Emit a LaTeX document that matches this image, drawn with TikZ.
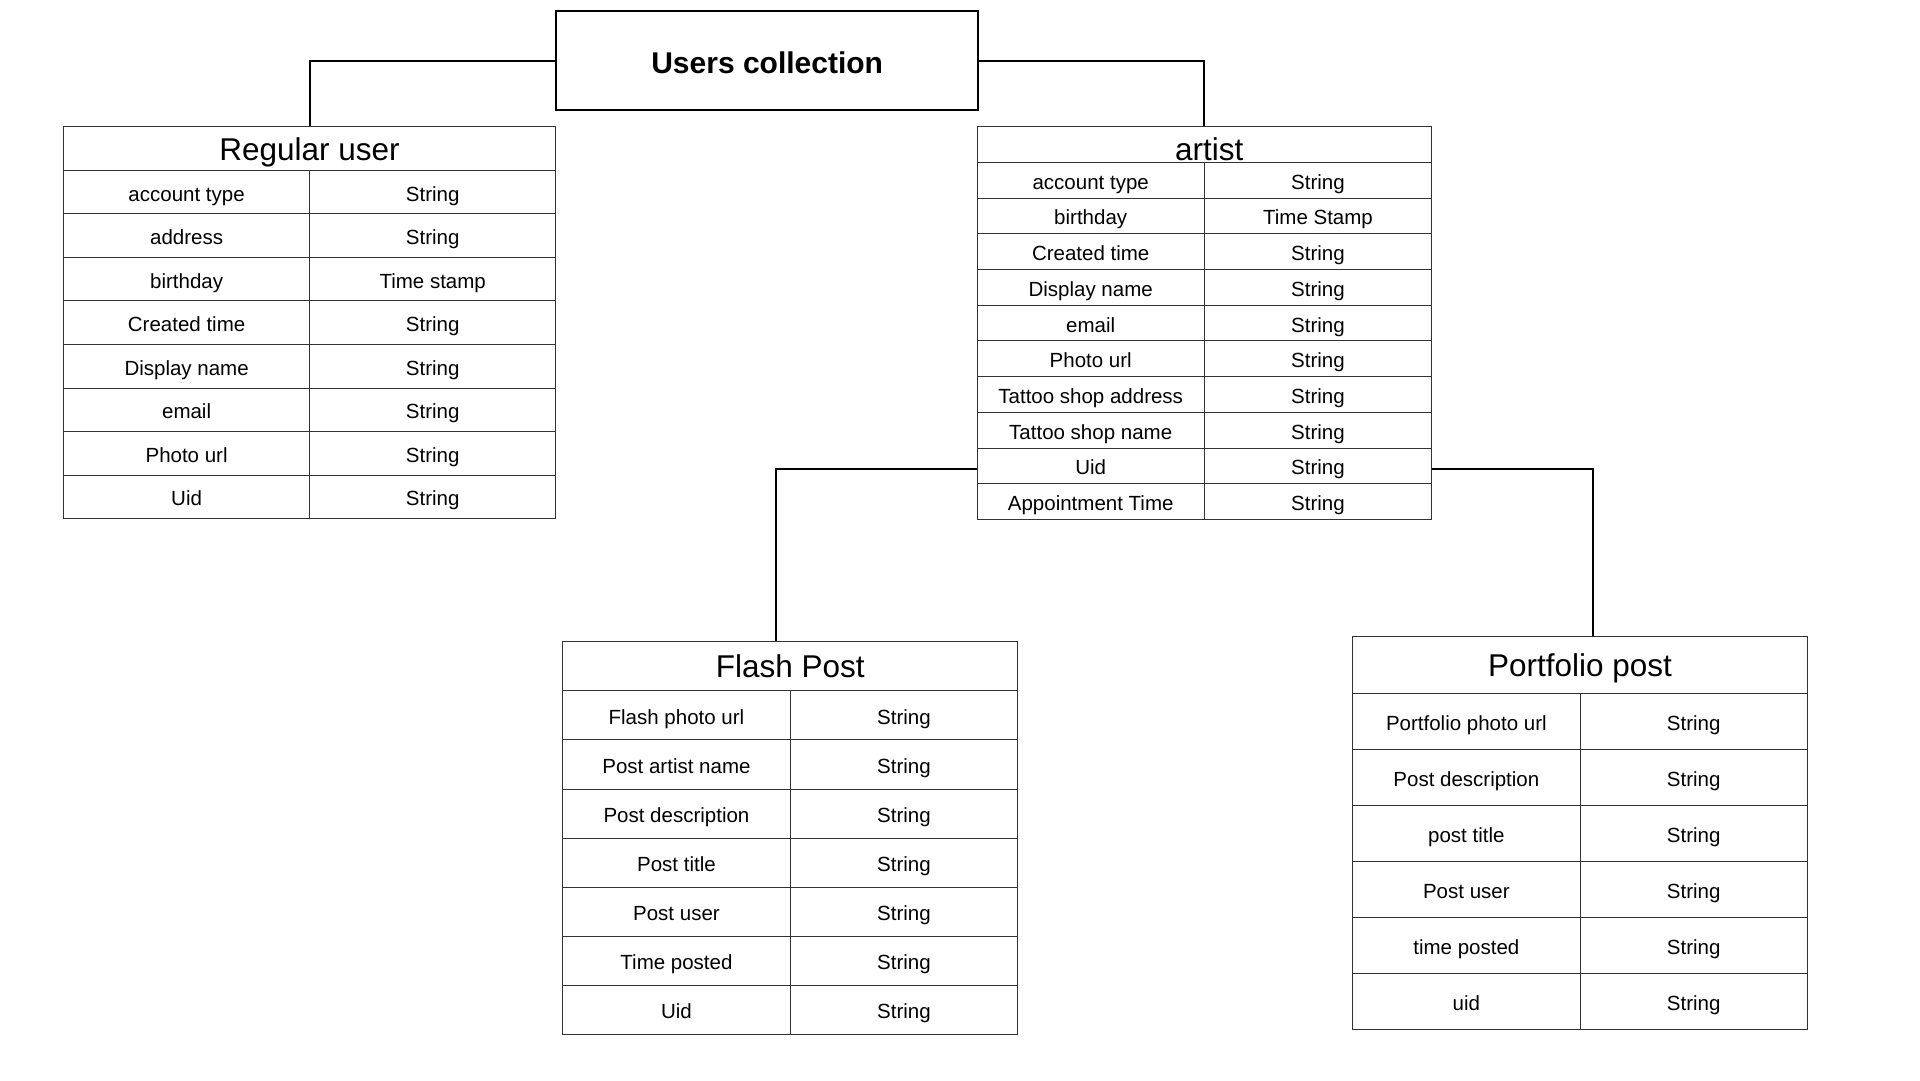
\documentclass[tikz,border=0pt]{standalone}
\usepackage{fontspec}
\setmainfont{Liberation Sans}
\usepackage{tikz}
\usetikzlibrary{positioning}
\tikzstyle{collection} = [rectangle, minimum width=422pt, minimum height=99.5pt, text centered, text height=27pt, text depth=1.4pt, draw=black, line width=2pt, font=\fontsize{30}{36}\selectfont\bfseries]
\tikzstyle{tabletitle} = [rectangle, inner sep=0pt, text centered, text height=26pt, text depth=3pt, draw=black!80, line width=1pt, font=\fontsize{31.5}{38}\selectfont]
\tikzstyle{cell} = [rectangle, inner sep=0pt, text centered, text height=20pt, text depth=2pt, draw=black!80, line width=1pt, font=\fontsize{20.5}{24}\selectfont]
\tikzstyle{link} = [line width=2pt]

\begin{document}
\begin{tikzpicture}[x=1pt, y=-1pt]
        \path[fill=white, use as bounding box] (0,0) rectangle (1920,1080);

        \node (users) [collection] at (767.2,60.5) {Users collection};

        % regular user table
        \node (rutitle) [tabletitle, minimum width=492.2pt, minimum height=43.56pt] at (309.6,148.5) {Regular user};
        \foreach \k/\t [count=\i] in {account type/String, address/String, birthday/Time stamp, Created time/String, Display name/String, email/String, Photo url/String, Uid/String} {
            \node (ru-\i-k) [cell, minimum width=246.1pt, minimum height=43.56pt] at (186.6,148.5+43.56*\i) {\k};
            \node (ru-\i-t) [cell, minimum width=246.1pt, minimum height=43.56pt] at (432.7,148.5+43.56*\i) {\t};
        }

        % artist table
        \node (artitle) [tabletitle, minimum width=454.7pt, minimum height=35.7pt, text height=32pt, text depth=0pt] at (1204.35,144.55) {\hspace*{10pt}artist};
        \foreach \k/\t [count=\i] in {account type/String, birthday/Time Stamp, Created time/String, Display name/String, email/String, Photo url/String, Tattoo shop address/String, Tattoo shop name/String, Uid/String, Appointment Time/String} {
            \node (ar-\i-k) [cell, minimum width=227.35pt, minimum height=35.7pt] at (1090.7,144.55+35.7*\i) {\k};
            \node (ar-\i-t) [cell, minimum width=227.35pt, minimum height=35.7pt] at (1318.0,144.55+35.7*\i) {\t};
        }

        % flash post table
        \node (fptitle) [tabletitle, minimum width=455pt, minimum height=49.1pt] at (790.2,666.25) {Flash Post};
        \foreach \k/\t [count=\i] in {Flash photo url/String, Post artist name/String, Post description/String, Post title/String, Post user/String, Time posted/String, Uid/String} {
            \node (fp-\i-k) [cell, minimum width=227.5pt, minimum height=49.1pt] at (676.45,666.25+49.1*\i) {\k};
            \node (fp-\i-t) [cell, minimum width=227.5pt, minimum height=49.1pt] at (903.95,666.25+49.1*\i) {\t};
        }

        % portfolio post table
        \node (pptitle) [tabletitle, minimum width=454.6pt, minimum height=56.04pt] at (1580,665) {Portfolio post};
        \foreach \k/\t [count=\i] in {Portfolio photo url/String, Post description/String, post title/String, Post user/String, time posted/String, uid/String} {
            \node (pp-\i-k) [cell, minimum width=227.3pt, minimum height=56.04pt] at (1466.35,665+56.04*\i) {\k};
            \node (pp-\i-t) [cell, minimum width=227.3pt, minimum height=56.04pt] at (1693.65,665+56.04*\i) {\t};
        }

        \draw [link] (users.west) -| (rutitle.north);
        \draw [link] (users.east) -| (artitle.north);
        \draw [link] ([yshift=-3pt]ar-9-k.west) -| ([xshift=-14pt]fptitle.north);
        \draw [link] ([yshift=-3pt]ar-9-t.east) -| ([xshift=13pt]pptitle.north);
    \end{tikzpicture}
\end{document}
